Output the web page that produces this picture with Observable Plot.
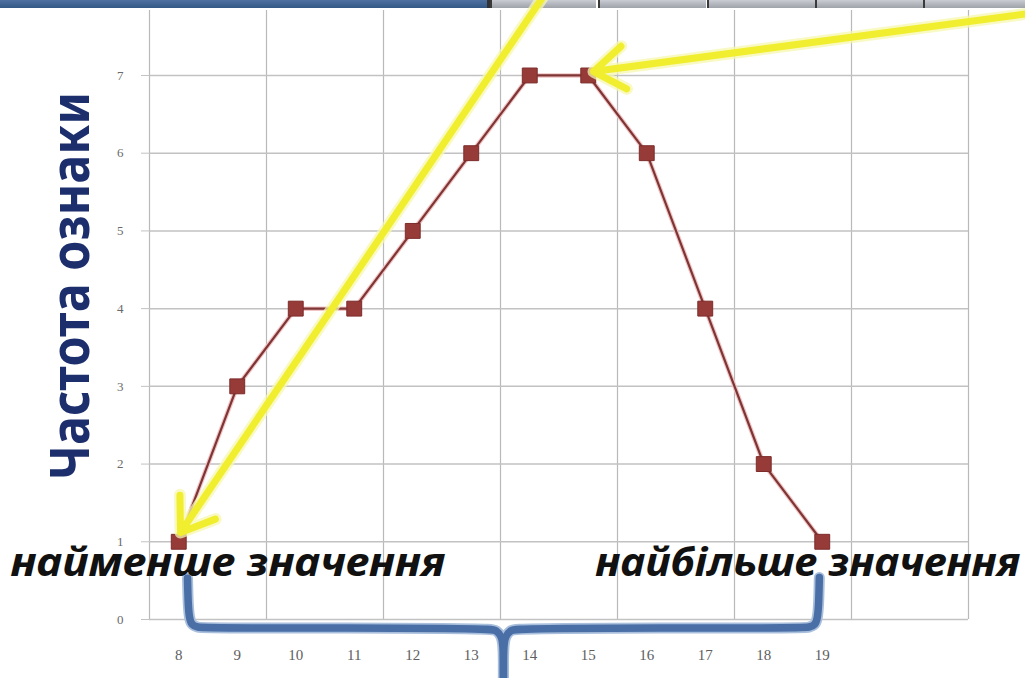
<!DOCTYPE html>
<html>
<head>
<meta charset="utf-8">
<script src="https://cdn.jsdelivr.net/npm/d3@7"></script>
<script src="https://cdn.jsdelivr.net/npm/@observablehq/plot@0.6"></script>
<style>
  html, body { margin: 0; padding: 0; background: #ffffff; }
  #wrap { position: relative; width: 1025px; height: 678px; overflow: hidden; background: #ffffff; }
  #chart { position: absolute; left: 0; top: 0; z-index: 1; }
  .hdr { position: absolute; top: 0; height: 8px; z-index: 0; }
  .blue { background: linear-gradient(#4d70a0, #345886); }
  .tab { background: linear-gradient(#c9ccd2, #9ea2a9); border-left: 2px solid #3a3a3a; box-sizing: border-box; }
</style>
</head>
<body>
<div id="wrap">
  <div class="hdr blue" style="left:0;width:487px"></div>
  <div class="hdr" style="left:487px;width:4px;background:#333"></div>
  <div class="hdr tab" style="left:490px;width:106px"></div>
  <div class="hdr tab" style="left:598px;width:108px"></div>
  <div class="hdr tab" style="left:707px;width:108px"></div>
  <div class="hdr tab" style="left:815px;width:108px"></div>
  <div class="hdr tab" style="left:923px;width:102px"></div>
  <div id="chart"></div>
</div>
<script>
// ---- data ----
const xValues = [8, 9, 10, 11, 12, 13, 14, 15, 16, 17, 18, 19];
const frequencies = [1, 3, 4, 4, 5, 6, 7, 7, 6, 4, 2, 1];
const yTicks = [0, 1, 2, 3, 4, 5, 6, 7];
const xTickLabels = ["8", "9", "10", "11", "12", "13", "14", "15", "16", "17", "18", "19"];
const xGridBreaks = [7.5, 9.5, 11.5, 13.5, 15.5, 17.5, 19.5, 21.5];
const yTitle = "Частота ознаки";
const minLabel = "найменше значення";
const maxLabel = "найбільше значення";

// annotation geometry (in data units)
const arrowX1 = [14.27, 22.56];
const arrowY1 = [8.06, 7.80];
const arrowX2 = [8.03, 15.09];
const arrowY2 = [1.12, 7.05];
const braceLeftX = [8.15, 8.16, 8.18, 8.22, 8.32, 8.46, 13.30, 13.44, 13.52, 13.55, 13.55];
const braceLeftY = [0.53, 0.20, 0.02, -0.07, -0.10, -0.11, -0.11, -0.14, -0.22, -0.35, -0.85];
const braceRightX = [13.55, 13.55, 13.58, 13.66, 13.80, 18.64, 18.78, 18.88, 18.92, 18.94, 18.95];
const braceRightY = [-0.85, -0.35, -0.22, -0.14, -0.11, -0.11, -0.10, -0.07, 0.02, 0.20, 0.54];

// ---- tables built from the arrays ----
const rows = xValues.map((v, i) => ({value: v, freq: frequencies[i]}));
const arrows = arrowX1.map((v, i) => ({x1: v, y1: arrowY1[i], x2: arrowX2[i], y2: arrowY2[i]}));
const brace = [
  ...braceLeftX.map((v, i) => ({part: "L", x: v, y: braceLeftY[i]})),
  ...braceRightX.map((v, i) => ({part: "R", x: v, y: braceRightY[i]}))
];

const chart = Plot.plot({
  width: 1025,
  height: 678,
  marginLeft: 149,
  marginRight: 57,
  marginTop: 10,
  marginBottom: 59,
  x: {domain: [7.5, 21.5], axis: null},
  y: {domain: [0, 7.836], axis: null},
  style: {background: "transparent", overflow: "hidden"},
  marks: [
    Plot.gridX(xGridBreaks, {stroke: "#b9b9b9", strokeOpacity: 1, strokeWidth: 1.2}),
    Plot.gridY(yTicks, {stroke: "#c2c2c2", strokeOpacity: 1, strokeWidth: 1.5}),
    Plot.axisY(yTicks, {tickSize: 8, tickPadding: 18, stroke: "#c2c2c2", fill: "#6a6a6a", fontSize: 13, fontFamily: "Liberation Serif", tickFormat: d => String(d)}),
    Plot.axisX(xValues, {tickSize: 0, tickPadding: 30, fill: "#5e5e5e", fontSize: 15, fontFamily: "Liberation Serif", tickFormat: (d, i) => xTickLabels[i]}),
    Plot.line(rows, {x: "value", y: "freq", stroke: "#f2c4c4", strokeWidth: 4.5}),
    Plot.line(rows, {x: "value", y: "freq", stroke: "#7e3535", strokeWidth: 2.2}),
    Plot.dot(rows, {x: "value", y: "freq", symbol: "square", r: 8.4, fill: "#973b38", stroke: "#7c2c2a", strokeWidth: 1}),
    Plot.line(brace, {x: "x", y: "y", z: "part", curve: "basis", stroke: "#a9bfdc", strokeWidth: 11, strokeLinecap: "round"}),
    Plot.line(brace, {x: "x", y: "y", z: "part", curve: "basis", stroke: "#4a6fa6", strokeWidth: 7.5, strokeLinecap: "round"}),
    Plot.text([minLabel], {x: 5.124, y: 0.72, textAnchor: "start", fontSize: 40, fontWeight: "bold", fontStyle: "italic", fontFamily: "Noto Sans", fill: "#111"}),
    Plot.text([maxLabel], {x: 15.12, y: 0.72, textAnchor: "start", fontSize: 40, fontWeight: "bold", fontStyle: "italic", fontFamily: "Noto Sans", fill: "#111"}),
    Plot.text([yTitle], {frameAnchor: "left", textAnchor: "middle", dx: -78, dy: -29, rotate: -90, fontSize: 54, fontWeight: "bold", fontFamily: "Noto Sans", fill: "#1c2f6c"}),
    Plot.arrow(arrows, {x1: "x1", y1: "y1", x2: "x2", y2: "y2", stroke: "#f7f7b0", strokeWidth: 12, headLength: 4.7, headAngle: 70, strokeOpacity: 0.75}),
    Plot.arrow(arrows, {x1: "x1", y1: "y1", x2: "x2", y2: "y2", stroke: "#f0ee2e", strokeWidth: 7, headLength: 8, headAngle: 70})
  ]
});

document.getElementById("chart").appendChild(chart);

// fit annotation texts to the reference widths
const fits = new Map([[yTitle, 388], [minLabel, 435], [maxLabel, 425]]);
d3.select(chart).selectAll("text").each(function () {
  const t = this.textContent;
  if (fits.has(t)) {
    this.setAttribute("textLength", fits.get(t));
    this.setAttribute("lengthAdjust", "spacingAndGlyphs");
  }
});
</script>
</body>
</html>
